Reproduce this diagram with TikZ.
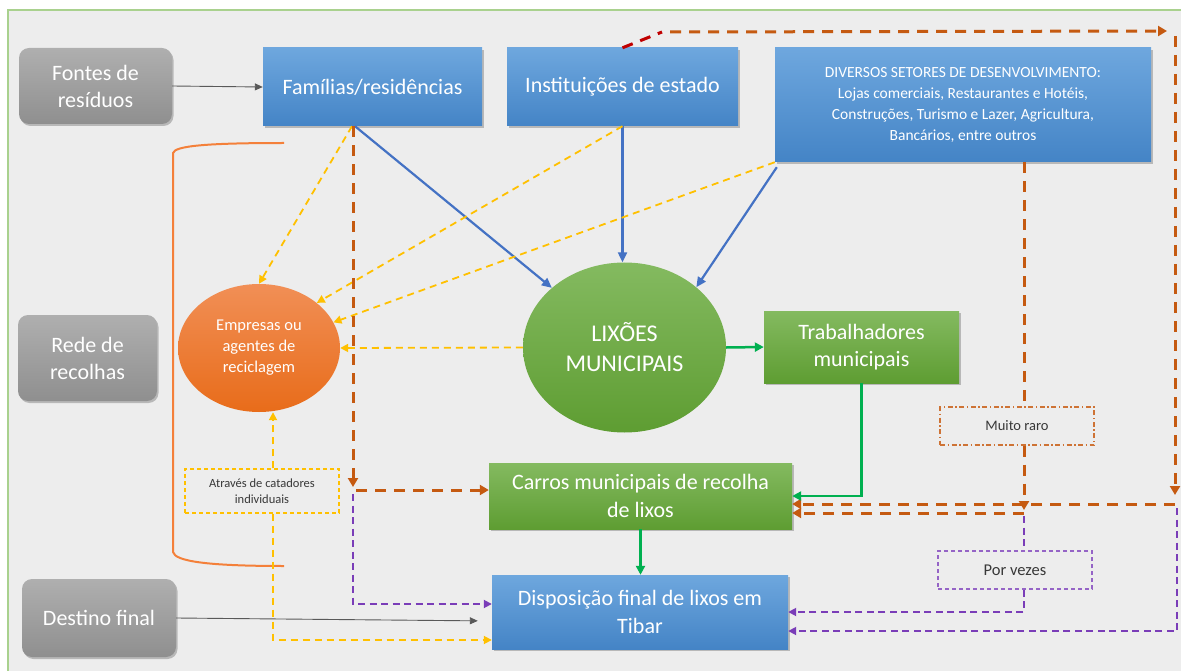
\documentclass[tikz,border=0pt]{standalone}
\usepackage{fontspec}
\setmainfont{Carlito}
\usetikzlibrary{arrows.meta,shadows,shapes.geometric,calc}

\definecolor{panel}{HTML}{EDEDED}
\definecolor{frame}{HTML}{A9D18E}
\definecolor{greytop}{HTML}{AFAFAF}
\definecolor{greybot}{HTML}{8F8F8F}
\definecolor{bluetop}{HTML}{6EA7DE}
\definecolor{bluebot}{HTML}{4484C6}
\definecolor{greentop}{HTML}{84BA60}
\definecolor{greenbot}{HTML}{5E9D32}
\definecolor{orangetop}{HTML}{F18F56}
\definecolor{orangebot}{HTML}{E86C1A}
\definecolor{linkblue}{HTML}{4472C4}
\definecolor{linkgold}{HTML}{FFC000}
\definecolor{linkrust}{HTML}{C55A11}
\definecolor{linkred}{HTML}{C00000}
\definecolor{linkpurple}{HTML}{7A3DB8}
\definecolor{linkgreen}{HTML}{00B050}
\definecolor{bracketorange}{HTML}{F4803A}
\definecolor{labeltext}{HTML}{383838}

\newcommand\setfs[2]{\fontsize{#1}{#2}\selectfont}

\tikzset{
  softshadow/.style={drop shadow={shadow xshift=1.5pt,shadow yshift=-2pt,opacity=0.22,fill=black}},
  basebox/.style={rectangle,inner sep=0pt,align=center,text=white,softshadow,
    font=\setfs{22}{27}},
  greybox/.style={basebox,rounded corners=10pt,top color=greytop,bottom color=greybot},
  bluebox/.style={basebox,top color=bluetop,bottom color=bluebot},
  greenbox/.style={basebox,top color=greentop,bottom color=greenbot},
  tag/.style={rectangle,inner sep=0pt,align=center,text=labeltext,
    minimum width=154pt,minimum height=38pt,line width=1.4pt},
  thinarrow/.style={draw=black!65,line width=0.9pt,-{Triangle[length=8pt,width=7pt]}},
  bluearrow/.style={draw=linkblue,line width=2.2pt,-{Triangle[length=10pt,width=9pt]}},
  goldarrow/.style={draw=linkgold,line width=1.8pt,dash pattern=on 7pt off 5pt,
    -{Triangle[length=8pt,width=8pt]}},
  rustdash/.style={draw=linkrust,line width=3pt,dash pattern=on 11pt off 8pt},
  rustarrow/.style={rustdash,-{Triangle[length=9pt,width=10pt]}},
  reddash/.style={draw=linkred,line width=3pt,dash pattern=on 11pt off 8pt},
  purpledash/.style={draw=linkpurple,line width=1.8pt,dash pattern=on 7pt off 4.5pt},
  purplearrow/.style={purpledash,-{Triangle[length=8pt,width=8pt]}},
  greenarrow/.style={draw=linkgreen,line width=2.5pt,-{Triangle[length=9pt,width=9pt]}},
  bracket/.style={draw=bracketorange,line width=2pt},
}

\begin{document}
\begin{tikzpicture}[x=1pt,y=-1pt]
\useasboundingbox (0,0) rectangle (1181,671);

% page and framed panel
\fill[white] (0,0) rectangle (1181,671);
\fill[panel] (8,10) rectangle (1181,671);
\draw[frame,line width=1.6pt] (8,671) -- (8,10) -- (1181,10);

% category labels on the left
\node[greybox,minimum width=153pt,minimum height=76pt] (fontes) at (95.5,86) {Fontes de\\resíduos};
\node[greybox,minimum width=139pt,minimum height=86pt] (rede) at (87.5,358) {Rede de\\recolhas};
\node[greybox,minimum width=154pt,minimum height=78pt] (destino) at (99,618) {Destino final};

% waste sources
\node[bluebox,minimum width=219pt,minimum height=78pt] (fam) at (372.5,87) {Famílias/residências};
\node[bluebox,minimum width=231pt,minimum height=78pt] (inst) at (622.5,87) {Instituições de estado};
\node[bluebox,minimum width=376pt,minimum height=114pt,font=\setfs{15.5}{21}] (div) at (963,105)
  {DIVERSOS SETORES DE DESENVOLVIMENTO:\\Lojas comerciais, Restaurantes e Hotéis,\\Construções, Turismo e Lazer, Agricultura,\\Bancários, entre outros};

% collection network
\node[ellipse,inner sep=0pt,minimum width=162pt,minimum height=128pt,align=center,text=white,
  top color=orangetop,bottom color=orangebot,font=\setfs{16.5}{21}] (emp) at (259,348)
  {Empresas ou\\agentes de\\reciclagem};
\node[ellipse,inner sep=0pt,minimum width=203pt,minimum height=170pt,align=center,text=white,
  top color=greentop,bottom color=greenbot,font=\setfs{24}{30}] (lix) at (624.5,347.5)
  {LIXÕES\\MUNICIPAIS};
\node[greenbox,minimum width=195pt,minimum height=72pt] (trab) at (861.5,347) {Trabalhadores\\municipais};
\node[greenbox,minimum width=303pt,minimum height=66pt,font=\setfs{22}{28}] (carros) at (640.5,496)
  {Carros municipais de recolha\\de lixos};

% final destination
\node[bluebox,minimum width=296pt,minimum height=74pt,font=\setfs{22}{28}] (disp) at (640,612)
  {Disposição final de lixos em\\Tibar};

% small frequency / route tags
\node[tag,draw=linkrust!85,dash pattern=on 5pt off 2.5pt on 1.5pt off 2.5pt,font=\setfs{14.5}{17}] (raro) at (1017,426) {Muito raro};
\node[tag,draw=linkpurple!80,dash pattern=on 4pt off 3pt,font=\setfs{16.5}{19}] (vezes) at (1015,570) {Por vezes};
\node[tag,draw=linkgold,dash pattern=on 4pt off 3pt,minimum height=44pt,font=\setfs{12.5}{16}] (cat) at (262,491)
  {Através de catadores\\individuais};

% bracket grouping the collection network
\draw[bracket] (284,143) .. controls (205,143) and (175,146) .. (173,153) -- (173,552)
  .. controls (175,561) and (205,566) .. (284,566);

% plain arrows from the category labels
\draw[thinarrow] (fontes.east) -- (fam.west);
\draw[thinarrow,shorten >=14pt] (destino.east) -- ([yshift=-9pt]disp.west);

% sources to the municipal dumps
\draw[bluearrow] ([xshift=-17.5pt]fam.south) -- (lix);
\draw[bluearrow] (inst.south) -- (inst.south |- lix.north);
\draw[bluearrow] ([xshift=2pt,yshift=-5pt]div.south west) -- (lix.40);

% flows to recycling
\draw[goldarrow] ([xshift=-20.5pt]fam.south) -- (emp.north);
\draw[goldarrow] (inst.south) -- (emp.38);
\draw[goldarrow] (div.south west) -- (emp.19);
\draw[goldarrow] (lix.west) -- (emp.east);
\draw[goldarrow] ([xshift=11pt]cat.north) -- ([xshift=11pt]cat.north |- emp.south);
\draw[goldarrow] ([xshift=11pt]cat.south) |- ([yshift=-28pt]disp.west);

% household route to the collection trucks and to Tibar
\coordinate (fbend) at (353,490);
\draw[rustarrow] ([xshift=-19.5pt]fam.south) -- ([yshift=3pt]fbend);
\draw[rustarrow] ([xshift=3pt]fbend) -- (fbend -| carros.west);
\draw[purplearrow] ([yshift=-4pt]fbend) |- ([yshift=8pt]disp.west);

% state institutions around the top and down the right side
\coordinate (tl) at (662,32);
\coordinate (tr) at (1175,31);
\coordinate (rc) at (1175,504);
\draw[reddash] (inst.north) -- (tl);
\draw[rustarrow] ([xshift=8pt]tl) -- ([xshift=-8pt]tr);
\draw[rustarrow] ([yshift=-5pt]tr) -- ([yshift=9pt]rc);
\draw[rustarrow] (rc) -- (rc -| carros.east);
\draw[purplearrow] ([xshift=2pt,yshift=-4pt]rc) |- ([yshift=-19pt]disp.east);

% development sectors
\coordinate (dv) at ([xshift=61pt]div.south);
\coordinate (dj) at (1024,513);
\draw[rustdash] (dv) -- (dv |- raro.north);
\draw[rustarrow] (dv |- raro.south) -- ([yshift=3pt]dj);
\draw[rustarrow] (dj) -- (dj -| carros.east);
\draw[purpledash] ([yshift=-3pt]dj) -- (dj |- vezes.north);
\draw[purplearrow] (dj |- vezes.south) |- (disp.east);

% municipal workers and trucks
\draw[greenarrow] (lix.east) -- (trab.west);
\draw[greenarrow] (trab.south) |- (carros.east);
\draw[greenarrow] (carros.south) -- (carros.south |- disp.north);
\end{tikzpicture}
\end{document}
